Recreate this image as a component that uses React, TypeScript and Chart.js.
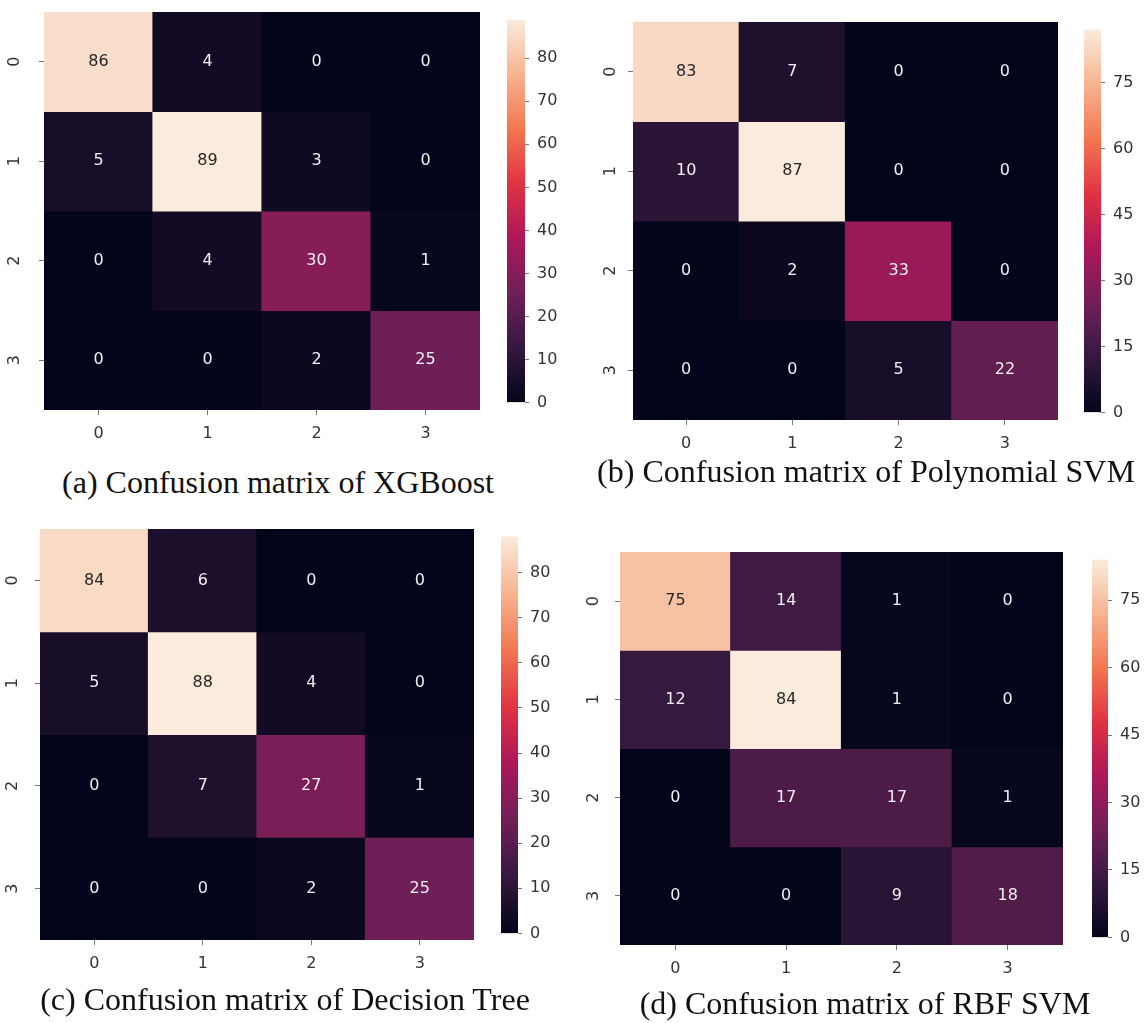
import React, { useEffect, useRef } from "react";
import { Chart, registerables } from "chart.js";

Chart.register(...registerables);

// ---------- data ----------
const CLASS_LABELS = ["0", "1", "2", "3"];

const XGBOOST_MATRIX = [
  [86, 4, 0, 0],
  [5, 89, 3, 0],
  [0, 4, 30, 1],
  [0, 0, 2, 25],
];

const POLY_SVM_MATRIX = [
  [83, 7, 0, 0],
  [10, 87, 0, 0],
  [0, 2, 33, 0],
  [0, 0, 5, 22],
];

const DECISION_TREE_MATRIX = [
  [84, 6, 0, 0],
  [5, 88, 4, 0],
  [0, 7, 27, 1],
  [0, 0, 2, 25],
];

const RBF_SVM_MATRIX = [
  [75, 14, 1, 0],
  [12, 84, 1, 0],
  [0, 17, 17, 1],
  [0, 0, 9, 18],
];

const TENS_TICKS = [0, 10, 20, 30, 40, 50, 60, 70, 80];
const FIFTEENS_TICKS = [0, 15, 30, 45, 60, 75];

const CAPTIONS = [
  "(a) Confusion matrix of XGBoost",
  "(b) Confusion matrix of Polynomial SVM",
  "(c) Confusion matrix of Decision Tree",
  "(d) Confusion matrix of RBF SVM",
];

// ---------- colour map (seaborn "rocket") ----------
const ROCKET_STOPS: [number, number[]][] = [
  [0.0, [3, 5, 26]],
  [0.143, [53, 25, 62]],
  [0.286, [112, 31, 87]],
  [0.429, [173, 23, 89]],
  [0.571, [225, 51, 66]],
  [0.714, [243, 118, 81]],
  [0.857, [246, 180, 143]],
  [1.0, [250, 235, 221]],
];

function rocketRgb(t: number): number[] {
  const u = Math.max(0, Math.min(1, t));
  for (let i = 1; i < ROCKET_STOPS.length; i++) {
    const [p1, c1] = ROCKET_STOPS[i];
    const [p0, c0] = ROCKET_STOPS[i - 1];
    if (u <= p1) {
      const f = (u - p0) / (p1 - p0);
      return c0.map((c, k) => Math.round(c + (c1[k] - c) * f));
    }
  }
  return ROCKET_STOPS[ROCKET_STOPS.length - 1][1];
}

const rgbStr = (c: number[]) => `rgb(${c[0]},${c[1]},${c[2]})`;

function luminance(c: number[]) {
  const lin = c.map((v) => {
    const s = v / 255;
    return s <= 0.03928 ? s / 12.92 : Math.pow((s + 0.055) / 1.055, 2.4);
  });
  return 0.2126 * lin[0] + 0.7152 * lin[1] + 0.0722 * lin[2];
}

// ---------- layout ----------
type Box = { l: number; t: number; r: number; b: number };
type PanelLayout = {
  heat: Box;
  cbar: Box;
  rowLabelGap: number;
  captionX: number;
  captionY: number;
};

const PANEL_LAYOUTS: PanelLayout[] = [
  { heat: { l: 44, t: 12, r: 480, b: 410 }, cbar: { l: 507, t: 12, r: 525, b: 410 }, rowLabelGap: 29, captionX: 278, captionY: 482 },
  { heat: { l: 633, t: 22, r: 1058, b: 420 }, cbar: { l: 1084, t: 22, r: 1101, b: 420 }, rowLabelGap: 22, captionX: 866, captionY: 471 },
  { heat: { l: 40, t: 529, r: 474, b: 940 }, cbar: { l: 501, t: 529, r: 518, b: 941 }, rowLabelGap: 27, captionX: 285, captionY: 999 },
  { heat: { l: 620, t: 552, r: 1063, b: 945 }, cbar: { l: 1092, t: 552, r: 1108, b: 945 }, rowLabelGap: 26, captionX: 865, captionY: 1003 },
];

const PANELS = [
  { matrix: XGBOOST_MATRIX, cbarTicks: TENS_TICKS, caption: CAPTIONS[0] },
  { matrix: POLY_SVM_MATRIX, cbarTicks: FIFTEENS_TICKS, caption: CAPTIONS[1] },
  { matrix: DECISION_TREE_MATRIX, cbarTicks: TENS_TICKS, caption: CAPTIONS[2] },
  { matrix: RBF_SVM_MATRIX, cbarTicks: FIFTEENS_TICKS, caption: CAPTIONS[3] },
];

const FONT_FAMILY = "'DejaVu Sans', sans-serif";
const TICK_FONT = { family: FONT_FAMILY, size: 16 };
const TICK_COLOR = "#333";
const Y_AXIS_W = 44;
const X_AXIS_H = 44;
const PAD_TOP = 6;
const PAD_RIGHT = 4;
const CBAR_AXIS_W = 44;
const SOFTEN = "blur(0.5px)";

// Writes each cell's count at the centre of its bar element
const cellLabelPlugin = {
  id: "cellLabels",
  afterDatasetsDraw(chart: any) {
    const ctx = chart.ctx;
    ctx.save();
    ctx.font = `16px ${FONT_FAMILY}`;
    ctx.textAlign = "center";
    ctx.textBaseline = "middle";
    chart.data.datasets.forEach((ds: any, di: number) => {
      const meta = chart.getDatasetMeta(di);
      meta.data.forEach((el: any, i: number) => {
        const v = ds.cellValues[i];
        const { x, y, base } = el.getProps(["x", "y", "base"], true);
        const lum = luminance(rocketRgb(v / ds.vmax));
        ctx.fillStyle = lum > 0.408 ? "#262626" : "#f2eef2";
        ctx.fillText(String(v), x, (y + base) / 2);
      });
    });
    ctx.restore();
  },
};

// Row (true-class) labels, rotated a quarter turn, centred on the y-scale ticks
const rowLabelPlugin = {
  id: "rowLabels",
  afterDraw(chart: any, _args: any, opts: any) {
    const ys = chart.scales.y;
    const ctx = chart.ctx;
    ctx.save();
    ctx.font = `16px ${FONT_FAMILY}`;
    ctx.fillStyle = TICK_COLOR;
    ctx.textAlign = "center";
    ctx.textBaseline = "middle";
    ys.ticks.forEach((t: any) => {
      const y = ys.getPixelForValue(t.value);
      ctx.save();
      ctx.translate(chart.chartArea.left - opts.gap, y);
      ctx.rotate(-Math.PI / 2);
      ctx.fillText(CLASS_LABELS[Math.floor(t.value)], 0, 0);
      ctx.restore();
    });
    ctx.restore();
  },
};

function Heatmap({ matrix, layout }: { matrix: number[][]; layout: PanelLayout }) {
  const ref = useRef<HTMLCanvasElement>(null);
  const { heat, rowLabelGap } = layout;
  const w = heat.r - heat.l + Y_AXIS_W + PAD_RIGHT;
  const h = heat.b - heat.t + PAD_TOP + X_AXIS_H;

  useEffect(() => {
    const vmax = Math.max(...matrix.flat());
    const datasets = matrix.map((row, r) => ({
      label: `true ${CLASS_LABELS[r]}`,
      data: row.map(() => [r, r + 1]),
      backgroundColor: row.map((v) => rgbStr(rocketRgb(v / vmax))),
      borderWidth: 0,
      inflateAmount: 0.6,
      barPercentage: 1,
      categoryPercentage: 1,
      grouped: false,
      cellValues: row,
      vmax,
    }));
    const chart = new Chart(ref.current as HTMLCanvasElement, {
      type: "bar",
      data: { labels: CLASS_LABELS, datasets: datasets as any },
      options: {
        animation: false,
        responsive: false,
        devicePixelRatio: 1,
        layout: { padding: { top: PAD_TOP, right: PAD_RIGHT, left: 0, bottom: 0 } },
        plugins: {
          legend: { display: false },
          tooltip: { enabled: false },
          rowLabels: { gap: rowLabelGap },
        },
        scales: {
          x: {
            type: "category",
            offset: true,
            grid: { offset: false, drawOnChartArea: false, tickLength: 5, color: "#777" },
            border: { display: false },
            ticks: { font: TICK_FONT, color: TICK_COLOR, padding: 9, maxRotation: 0 },
            afterFit: (s: any) => {
              s.height = X_AXIS_H;
            },
          },
          y: {
            type: "linear",
            min: 0,
            max: CLASS_LABELS.length,
            reverse: true,
            grid: { drawOnChartArea: false, tickLength: 5, color: "#777" },
            border: { display: false },
            afterBuildTicks: (s: any) => {
              s.ticks = CLASS_LABELS.map((_, i) => ({ value: i + 0.5 }));
            },
            ticks: { display: false },
            afterFit: (s: any) => {
              s.width = Y_AXIS_W;
            },
          },
        },
      } as any,
      plugins: [cellLabelPlugin, rowLabelPlugin],
    });
    return () => chart.destroy();
  }, []);

  return (
    <canvas
      ref={ref}
      width={w}
      height={h}
      style={{
        position: "absolute",
        left: heat.l - Y_AXIS_W,
        top: heat.t - PAD_TOP,
        width: w,
        height: h,
        filter: SOFTEN,
      }}
    />
  );
}

function ColorBar({ matrix, ticks, layout }: { matrix: number[][]; ticks: number[]; layout: PanelLayout }) {
  const ref = useRef<HTMLCanvasElement>(null);
  const { cbar } = layout;
  const padV = 10;
  const w = cbar.r - cbar.l + CBAR_AXIS_W;
  const h = cbar.b - cbar.t + padV * 2;

  useEffect(() => {
    const vmax = Math.max(...matrix.flat());
    const chart = new Chart(ref.current as HTMLCanvasElement, {
      type: "bar",
      data: {
        labels: ["scale"],
        datasets: [
          {
            data: [[0, vmax]],
            borderWidth: 0,
            barPercentage: 1,
            categoryPercentage: 1,
            backgroundColor: (c: any) => {
              const ch = c.chart;
              const ys = ch.scales.y;
              if (!ch.chartArea || !ys) return "#000";
              const g = ch.ctx.createLinearGradient(0, ys.getPixelForValue(0), 0, ys.getPixelForValue(vmax));
              ROCKET_STOPS.forEach(([p, col]) => g.addColorStop(p, rgbStr(col)));
              return g;
            },
          },
        ],
      },
      options: {
        animation: false,
        responsive: false,
        devicePixelRatio: 1,
        layout: { padding: { top: padV, bottom: padV, left: 0, right: 0 } },
        plugins: { legend: { display: false }, tooltip: { enabled: false } },
        scales: {
          x: { display: false },
          y: {
            type: "linear",
            position: "right",
            min: 0,
            max: vmax,
            grid: { drawOnChartArea: false, tickLength: 4, color: "#777" },
            border: { display: false },
            afterBuildTicks: (s: any) => {
              s.ticks = ticks.map((v) => ({ value: v }));
            },
            ticks: { font: TICK_FONT, color: TICK_COLOR, padding: 8 },
            afterFit: (s: any) => {
              s.width = CBAR_AXIS_W;
            },
          },
        },
      } as any,
    });
    return () => chart.destroy();
  }, []);

  return (
    <canvas
      ref={ref}
      width={w}
      height={h}
      style={{
        position: "absolute",
        left: cbar.l,
        top: cbar.t - padV,
        width: w,
        height: h,
        filter: SOFTEN,
      }}
    />
  );
}

function Caption({ text, x, y }: { text: string; x: number; y: number }) {
  return (
    <div
      style={{
        position: "absolute",
        left: x,
        top: y - 18,
        transform: "translateX(-50%)",
        whiteSpace: "nowrap",
        font: "32px 'Liberation Serif', 'Times New Roman', serif",
        lineHeight: "36px",
        color: "#111",
      }}
    >
      {text}
    </div>
  );
}

export default function App() {
  return (
    <div
      style={{
        position: "absolute",
        left: 0,
        top: 0,
        width: 1146,
        height: 1023,
        background: "#fff",
        overflow: "hidden",
      }}
    >
      {PANELS.map((p, i) => (
        <React.Fragment key={i}>
          <Heatmap matrix={p.matrix} layout={PANEL_LAYOUTS[i]} />
          <ColorBar matrix={p.matrix} ticks={p.cbarTicks} layout={PANEL_LAYOUTS[i]} />
          <Caption text={p.caption} x={PANEL_LAYOUTS[i].captionX} y={PANEL_LAYOUTS[i].captionY} />
        </React.Fragment>
      ))}
    </div>
  );
}
